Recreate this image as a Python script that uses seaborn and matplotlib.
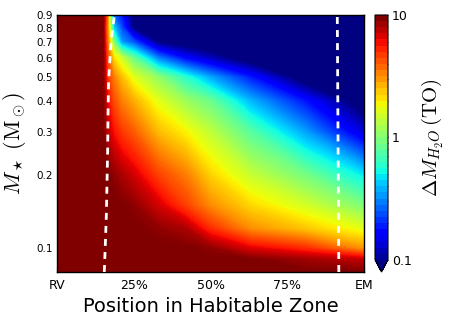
import numpy as np
import matplotlib
matplotlib.use("Agg")
import matplotlib.pyplot as plt
import seaborn as sns
from matplotlib.ticker import FixedLocator, NullLocator
from matplotlib.colors import BoundaryNorm
from matplotlib.cm import ScalarMappable

# ---- data ----
# position in the habitable zone (0 = Recent Venus, 1 = Early Mars)
positions = [0.0, 0.15, 0.165, 0.185, 0.21, 0.25, 0.33, 0.42, 0.5, 0.63, 0.81, 1.0]
# stellar mass rows (solar masses)
masses = [0.08, 0.09, 0.1, 0.12, 0.15, 0.2, 0.3, 0.4, 0.5, 0.6, 0.7, 0.8, 0.9]
# log10 of water lost (terrestrial oceans), one list per stellar mass row
logdm_m080 = [1.0, 1.0, 1.0, 1.0, 1.0, 1.0, 1.0, 1.0, 1.0, 1.0, 1.0, 1.0]
logdm_m090 = [1.0, 1.0, 1.0, 1.0, 1.0, 1.0, 1.0, 1.0, 1.0, 1.0, 0.94, 0.87]
logdm_m100 = [1.0, 1.0, 1.0, 1.0, 1.0, 1.0, 1.0, 1.0, 0.97, 0.83, 0.73, 0.5]
logdm_m120 = [1.0, 1.0, 1.0, 1.0, 1.0, 1.0, 0.97, 0.92, 0.73, 0.52, 0.4, 0.25]
logdm_m150 = [1.0, 1.0, 1.0, 1.0, 1.0, 0.97, 0.85, 0.68, 0.52, 0.36, 0.21, 0.0]
logdm_m200 = [1.0, 1.0, 1.0, 0.97, 0.92, 0.85, 0.68, 0.55, 0.37, 0.18, -0.02, -0.3]
logdm_m300 = [1.0, 1.0, 0.88, 0.78, 0.7, 0.62, 0.42, 0.3, 0.16, -0.09, -0.44, -0.85]
logdm_m400 = [1.0, 1.0, 0.8, 0.65, 0.55, 0.45, 0.25, 0.08, -0.04, -0.39, -0.72, -1.1]
logdm_m500 = [1.0, 1.0, 0.7, 0.55, 0.42, 0.25, 0.05, -0.2, -0.42, -0.7, -1.1, -1.25]
logdm_m600 = [1.0, 1.0, 0.65, 0.35, 0.2, -0.05, -0.5, -0.75, -0.89, -1.1, -1.3, -1.3]
logdm_m700 = [1.0, 1.0, 0.55, 0.0, -0.45, -0.6, -1.0, -1.1, -1.15, -1.3, -1.3, -1.3]
logdm_m800 = [1.0, 1.0, 0.5, -0.35, -0.6, -1.0, -1.2, -1.3, -1.3, -1.3, -1.3, -1.3]
logdm_m900 = [1.0, 1.0, 0.55, -0.55, -0.7, -1.05, -1.3, -1.3, -1.3, -1.3, -1.3, -1.3]

# dashed boundaries
rg_mass = [0.08, 0.1, 0.14, 0.19, 0.25, 0.34, 0.48, 0.7, 0.9]
rg_pos = [0.154, 0.157, 0.161, 0.163, 0.165, 0.166, 0.168, 0.176, 0.187]
mg_mass = [0.08, 0.9]
mg_pos = [0.918, 0.913]

xtick_pos = [0.0, 0.25, 0.5, 0.75, 1.0]
xtick_labels = ["RV", "25%", "50%", "75%", "EM"]
ytick_pos = [0.1, 0.2, 0.3, 0.4, 0.5, 0.6, 0.7, 0.8, 0.9]
ytick_labels = ["0.1", "0.2", "0.3", "0.4", "0.5", "0.6", "0.7", "0.8", "0.9"]
cbar_ticks = [0.1, 1, 10]
cbar_labels = ["0.1", "1", "10"]

# ---- style ----
sns.set_theme(style="ticks", rc={
    "axes.edgecolor": "black", "axes.linewidth": 1.0,
    "text.color": "black", "axes.labelcolor": "black",
    "xtick.color": "black", "ytick.color": "black",
})
plt.rcParams["font.family"] = ["DejaVu Sans"]
plt.rcParams["mathtext.fontset"] = "cm"

cmap = matplotlib.colormaps["jet"]

Z = np.array([logdm_m080, logdm_m090, logdm_m100, logdm_m120, logdm_m150,
              logdm_m200, logdm_m300, logdm_m400, logdm_m500, logdm_m600,
              logdm_m700, logdm_m800, logdm_m900])
# y axis is drawn in log10(mass) coordinates (logarithmic mass axis)
X, Y = np.meshgrid(positions, np.log10(masses))

fig = plt.figure(figsize=(4.5, 3.27), dpi=100)
ax = fig.add_axes([57 / 450, 55 / 327, 307 / 450, 257 / 327])

fine_levels = np.linspace(-1, 1, 201)
cs = ax.contourf(X, Y, Z, levels=fine_levels, cmap=cmap, extend="min",
                 antialiased=False)

ax.plot(rg_pos, np.log10(rg_mass), color="white", lw=2, dashes=(2.5, 2.2), zorder=5)
ax.plot(mg_pos, np.log10(mg_mass), color="white", lw=2, dashes=(2.5, 2.2), zorder=5)

ax.set_xlim(0, 1)
ax.set_ylim(np.log10(0.08), np.log10(0.9))
ax.xaxis.set_major_locator(FixedLocator(xtick_pos))
ax.set_xticklabels(xtick_labels, fontsize=9)
ax.yaxis.set_major_locator(FixedLocator(np.log10(ytick_pos)))
ax.yaxis.set_minor_locator(NullLocator())
ax.set_yticklabels(ytick_labels, fontsize=7.5)
ax.tick_params(direction="in", top=True, right=True, bottom=True, left=True,
               length=3.5, width=0.8)
ax.tick_params(axis="x", pad=5)
ax.tick_params(axis="y", pad=3)

ax.set_xlabel("Position in Habitable Zone", fontsize=14, labelpad=4)
ax.set_ylabel(r"$M_\star\ (\mathrm{M}_\odot)$", fontsize=16, labelpad=6)

# colourbar with discrete bands, as in the reference
cb_levels = np.linspace(-1, 1, 41)
sm = ScalarMappable(norm=BoundaryNorm(cb_levels, cmap.N, extend="min"), cmap=cmap)
cax = fig.add_axes([375 / 450, 55 / 327, 13 / 450, 257 / 327])
cbar = fig.colorbar(sm, cax=cax, extend="min")
cbar.set_ticks(np.log10(cbar_ticks), labels=cbar_labels)
minor = [np.log10(k * d) for d in (0.1, 1) for k in range(2, 10)]
cbar.set_ticks(minor, minor=True)
cbar.ax.tick_params(which="major", direction="in", length=4, width=0.8, labelsize=9, pad=3)
cbar.ax.tick_params(which="minor", direction="in", length=2.5, width=0.6)
cbar.outline.set_linewidth(0.8)
cbar.set_label(r"$\Delta M_{H_2O}\,(\mathrm{TO})$", fontsize=15, labelpad=6)

fig.savefig("out.png", dpi=100)
